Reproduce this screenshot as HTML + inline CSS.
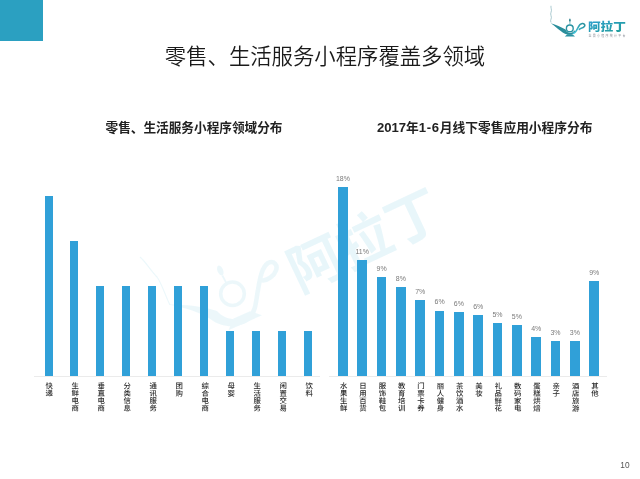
<!DOCTYPE html>
<html lang="zh"><head><meta charset="utf-8"><title>零售、生活服务小程序覆盖多领域</title>
<style>
html,body{margin:0;padding:0;background:#fff;}
body{width:640px;height:479px;position:relative;overflow:hidden;font-family:"Liberation Sans","Noto Sans CJK SC",sans-serif;}
.corner{position:absolute;left:0;top:0;width:42.6px;height:41.3px;background:#2ba0c1;}
.title{position:absolute;left:0;width:650px;top:41.3px;text-align:center;font-size:21.37px;font-weight:350;color:#1a1a1a;line-height:32px;white-space:nowrap;}
.sub{position:absolute;top:117.7px;font-size:12.65px;font-weight:700;color:#222;line-height:20px;white-space:nowrap;text-align:center;}
.d{font-size:13.1px;}
.bar{position:absolute;background:#30a0d8;}
.pl{position:absolute;width:30px;text-align:center;font-size:7px;line-height:9px;color:#7a7a7a;}
.axis{position:absolute;height:1px;background:#ebebeb;top:375.8px;}
.pn{position:absolute;left:609.5px;top:460px;width:20px;text-align:right;font-size:8.3px;line-height:10px;color:#555;}
.wm,.vls{position:absolute;left:0;top:0;}
.logo{position:absolute;left:0;top:0;}
</style></head><body>
<svg class="wm" width="640" height="479" viewBox="0 0 640 479">
 <g opacity="0.08">
  <path d="M140 257 C146 262 150 270 157 277 C162 284 165 295 170 305" fill="none" stroke="#19a5cd" stroke-width="1.2"/>
  <path d="M168 304.5 C186 304.5 204 306.5 217 311 C224 319 236 322 247 316 L251 319.5 C240 329 222 328 211 319.5 C200 312 186 308 168 304.5 Z" fill="#19a5cd"/>
  <path d="M249 318 C256 312 256 300 258 290 C260 278 262 267 268 263 C274 260 278 265 276 270.5 C274 276 268 280 263 280.5" fill="none" stroke="#19a5cd" stroke-width="4.6" stroke-linecap="round"/>
  <circle cx="232.5" cy="293.75" r="11.8" fill="none" stroke="#19a5cd" stroke-width="3.6"/>
  <ellipse cx="220.3" cy="270.5" rx="2.8" ry="5.2" transform="rotate(-24 220.3 270.5)" fill="#19a5cd"/>
  <path d="M222.3 275.5 L226.2 282.6" stroke="#19a5cd" stroke-width="1.8"/>
  <path d="M233.5 318.6 L250 311.2 L262 315.2 L228.5 330.2 Z" fill="#19a5cd"/>
</g>
 <g opacity="0.095" transform="translate(280.3,250) rotate(-25.2) scale(4.28) translate(-588.2,-20.9)">  <text x="588" y="31.9" font-family="'Liberation Sans','Noto Sans CJK SC',sans-serif" font-weight="700" font-size="12.8" fill="#19a5cd" textLength="37.8" lengthAdjust="spacingAndGlyphs">阿拉丁</text>
</g>
</svg>
<div class="corner"></div>
<div class="title">零售、生活服务小程序覆盖多领域</div>
<div class="sub" style="left:94px;width:200px">零售、生活服务小程序领域分布</div>
<div class="sub" style="left:364.7px;width:240px;font-size:12.72px"><span class="d">2017</span>年<span class="d" style="letter-spacing:0.72px">1-6</span>月线下零售应用小程序分布</div>
<div class="axis" style="left:34px;width:285.5px"></div>
<div class="axis" style="left:329px;width:278px"></div>
<div class="bar" style="left:44.50px;top:196.30px;width:8.0px;height:179.30px"></div>
<div class="bar" style="left:70.48px;top:241.00px;width:8.0px;height:134.60px"></div>
<div class="bar" style="left:96.46px;top:286.00px;width:8.0px;height:89.60px"></div>
<div class="bar" style="left:122.44px;top:286.00px;width:8.0px;height:89.60px"></div>
<div class="bar" style="left:148.42px;top:286.00px;width:8.0px;height:89.60px"></div>
<div class="bar" style="left:174.40px;top:286.00px;width:8.0px;height:89.60px"></div>
<div class="bar" style="left:200.38px;top:286.00px;width:8.0px;height:89.60px"></div>
<div class="bar" style="left:226.36px;top:331.20px;width:8.0px;height:44.40px"></div>
<div class="bar" style="left:252.34px;top:331.20px;width:8.0px;height:44.40px"></div>
<div class="bar" style="left:278.32px;top:331.20px;width:8.0px;height:44.40px"></div>
<div class="bar" style="left:304.30px;top:331.20px;width:8.0px;height:44.40px"></div>
<div class="bar" style="left:338.10px;top:187.00px;width:9.6px;height:188.60px"></div>
<div class="pl" style="left:327.90px;top:173.80px">18%</div>
<div class="bar" style="left:357.43px;top:260.00px;width:9.6px;height:115.60px"></div>
<div class="pl" style="left:347.23px;top:246.80px">11%</div>
<div class="bar" style="left:376.76px;top:277.10px;width:9.6px;height:98.50px"></div>
<div class="pl" style="left:366.56px;top:263.90px">9%</div>
<div class="bar" style="left:396.09px;top:286.80px;width:9.6px;height:88.80px"></div>
<div class="pl" style="left:385.89px;top:273.60px">8%</div>
<div class="bar" style="left:415.42px;top:300.10px;width:9.6px;height:75.50px"></div>
<div class="pl" style="left:405.22px;top:286.90px">7%</div>
<div class="bar" style="left:434.75px;top:310.50px;width:9.6px;height:65.10px"></div>
<div class="pl" style="left:424.55px;top:297.30px">6%</div>
<div class="bar" style="left:454.08px;top:312.20px;width:9.6px;height:63.40px"></div>
<div class="pl" style="left:443.88px;top:299.00px">6%</div>
<div class="bar" style="left:473.41px;top:315.10px;width:9.6px;height:60.50px"></div>
<div class="pl" style="left:463.21px;top:301.90px">6%</div>
<div class="bar" style="left:492.74px;top:322.80px;width:9.6px;height:52.80px"></div>
<div class="pl" style="left:482.54px;top:309.60px">5%</div>
<div class="bar" style="left:512.07px;top:325.00px;width:9.6px;height:50.60px"></div>
<div class="pl" style="left:501.87px;top:311.80px">5%</div>
<div class="bar" style="left:531.40px;top:336.70px;width:9.6px;height:38.90px"></div>
<div class="pl" style="left:521.20px;top:323.50px">4%</div>
<div class="bar" style="left:550.73px;top:340.70px;width:9.6px;height:34.90px"></div>
<div class="pl" style="left:540.53px;top:327.50px">3%</div>
<div class="bar" style="left:570.06px;top:340.70px;width:9.6px;height:34.90px"></div>
<div class="pl" style="left:559.86px;top:327.50px">3%</div>
<div class="bar" style="left:589.39px;top:280.70px;width:9.6px;height:94.90px"></div>
<div class="pl" style="left:579.19px;top:267.50px">9%</div>
<svg class="vls" width="640" height="479" viewBox="0 0 640 479"><g transform="rotate(0.03)" writing-mode="vertical-rl" font-size="7.4" letter-spacing="0" font-weight="500" fill="#2a2a2a" font-family="'Liberation Sans','Noto Sans CJK SC',sans-serif">
<text x="48.50" y="381.9">快递</text>
<text x="74.48" y="381.9">生鲜电商</text>
<text x="100.46" y="381.9">垂直电商</text>
<text x="126.44" y="381.9">分类信息</text>
<text x="152.42" y="381.9">通讯服务</text>
<text x="178.40" y="381.9">团购</text>
<text x="204.38" y="381.9">综合电商</text>
<text x="230.36" y="381.9">母婴</text>
<text x="256.34" y="381.9">生活服务</text>
<text x="282.32" y="381.9">闲置交易</text>
<text x="308.30" y="381.9">饮料</text>
<text x="342.90" y="381.9">水果生鲜</text>
<text x="362.23" y="381.9">日用百货</text>
<text x="381.56" y="381.9">服饰鞋包</text>
<text x="400.89" y="381.9">教育培训</text>
<text x="420.22" y="381.9">门票卡券</text>
<text x="439.55" y="381.9">丽人健身</text>
<text x="458.88" y="381.9">茶饮酒水</text>
<text x="478.21" y="381.9">美妆</text>
<text x="497.54" y="381.9">礼品鲜花</text>
<text x="516.87" y="381.9">数码家电</text>
<text x="536.20" y="381.9">蛋糕烘焙</text>
<text x="555.53" y="381.9">亲子</text>
<text x="574.86" y="381.9">酒店旅游</text>
<text x="594.19" y="381.9">其他</text>
</g></svg>
<div class="pn">10</div>
<svg class="logo" width="640" height="60" viewBox="0 0 640 60">
 <defs>
  <linearGradient id="tgl" x1="0" y1="0" x2="1" y2="1"><stop offset="0" stop-color="#2f9fd0"/><stop offset="1" stop-color="#1f9d95"/></linearGradient>
  <linearGradient id="hgl" x1="0" y1="1" x2="1" y2="0"><stop offset="0" stop-color="#45c6dc"/><stop offset="1" stop-color="#2a8e9b"/></linearGradient>
 </defs>
 <g>
  <path d="M551 22.5 C549.6 20.2 552.4 18.2 551 15.6 C549.8 13.2 552.3 11.2 551.2 8.6 C550.8 7.6 551 6.6 551 5.8" fill="none" stroke="#86b3bb" stroke-width="0.7"/>
  <path d="M550.8 23.2 C556 24.8 561 27 565.6 29.6 C566.3 31.8 568 32.9 570 32.9 C572 32.9 573.6 31.9 574.3 30.4 L575.6 31.3 C574.2 33.7 572 34.7 569.5 34.7 C563.5 34.7 557.5 28 550.8 23.2 Z" fill="#2a8e9b"/>
  <path d="M573.6 33.3 C576 32.3 577 29.8 578 27.6 C579.2 25 580.4 23.7 582.2 23.5 C584.1 23.3 585.2 24.7 584.7 26.1 C584.2 27.5 582.4 28.1 580.7 28.5 C580.1 28.7 579.6 29.1 579.4 29.5" fill="none" stroke="url(#hgl)" stroke-width="1.6" stroke-linecap="round"/>
  <circle cx="569.8" cy="28.4" r="3.4" fill="#fff" stroke="#2a93a3" stroke-width="1.4"/>
  <ellipse cx="569.9" cy="20.2" rx="0.8" ry="1.6" fill="#2a7f8c"/>
  <path d="M569.9 21.6 L569.9 24.4" stroke="#2a8e9b" stroke-width="0.6"/>
  <path d="M567.4 34.3 L572.4 34.3 L575 36.5 L564.8 36.5 Z" fill="#2a93a3"/>
  <text x="588" y="31.2" font-family="'Liberation Sans','Noto Sans CJK SC',sans-serif" font-weight="900" font-size="11.7" fill="url(#tgl)" textLength="37.8" lengthAdjust="spacingAndGlyphs">阿拉丁</text>
  <text x="588.5" y="37" font-family="'Liberation Sans','Noto Sans CJK SC',sans-serif" font-size="3" fill="#8d929b" textLength="37" lengthAdjust="spacing">全景小程序统计平台</text>
</g>
</svg>
</body></html>
